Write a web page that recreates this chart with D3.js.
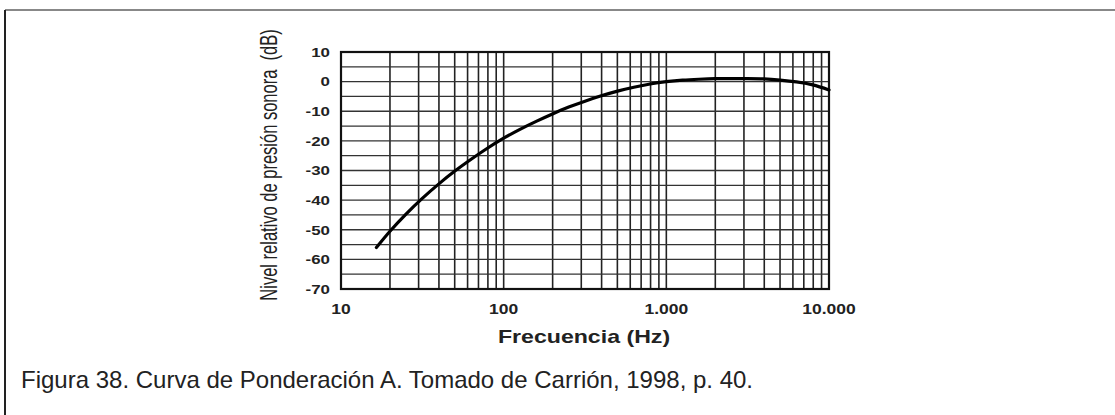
<!DOCTYPE html>
<html>
<head>
<meta charset="utf-8">
<script src="https://cdn.jsdelivr.net/npm/d3@7"></script>
<style>
  body { margin: 0; background: #fff; }
  svg { display: block; }
</style>
</head>
<body>
<script>
// A-weighting curve, values
const freqs = [16.5, 20, 25.1, 31.6, 39.8, 50.1, 63.1, 79.4, 100, 125.9, 158.5, 199.5, 251.2, 316.2, 398.1, 501.2, 631, 794.3, 1000, 1258.9, 1584.9, 1995.3, 2511.9, 3162.3, 3981.1, 5011.9, 6309.6, 7943.3, 10000]
const levels = [-56, -50.5, -44.7, -39.4, -34.6, -30.2, -26.2, -22.5, -19.1, -16.1, -13.4, -10.9, -8.6, -6.6, -4.8, -3.2, -1.9, -0.8, 0, 0.5, 0.8, 1.0, 1.0, 1.0, 0.9, 0.5, -0.1, -1.1, -2.8]
const xTickLabels = ["10", "100", "1.000", "10.000"]
const xTickValues = [10, 100, 1000, 10000]
const yTickValues = [10, 0, -10, -20, -30, -40, -50, -60, -70]

const width = 1115
const height = 415
const plotLeft = 341, plotRight = 829, plotTop = 52, plotBottom = 289
const stretch = 1.25

const svg = d3.select("body").append("svg")
    .attr("width", width)
    .attr("height", height)

const x = d3.scaleLog().domain([10, 10000]).range([plotLeft, plotRight])
const y = d3.scaleLinear().domain([-70, 10]).range([plotBottom, plotTop])

// outer frame
svg.append("line").attr("x1", 5).attr("x2", width).attr("y1", 10).attr("y2", 10)
    .attr("stroke", "#888").attr("stroke-width", 2)
svg.append("line").attr("x1", 5).attr("x2", 5).attr("y1", 10).attr("y2", height)
    .attr("stroke", "#222").attr("stroke-width", 2)

// grid
const xGrid = []
for (let d = 10; d < 10000; d *= 10) {
    for (let m = 2; m <= 10; m++) xGrid.push(d * m)
}
svg.append("g").selectAll("line")
    .data(xGrid)
    .enter().append("line")
    .attr("x1", d => x(d)).attr("x2", d => x(d))
    .attr("y1", plotTop).attr("y2", plotBottom)
    .attr("stroke", "#222").attr("stroke-width", 1.6)

svg.append("g").selectAll("line")
    .data(d3.range(-65, 10, 5))
    .enter().append("line")
    .attr("x1", plotLeft).attr("x2", plotRight)
    .attr("y1", d => y(d)).attr("y2", d => y(d))
    .attr("stroke", "#333").attr("stroke-width", 1.3)

svg.append("rect")
    .attr("x", plotLeft).attr("y", plotTop)
    .attr("width", plotRight - plotLeft).attr("height", plotBottom - plotTop)
    .attr("fill", "none").attr("stroke", "#111").attr("stroke-width", 2.2)

// curve
const line = d3.line()
    .x((d, i) => x(freqs[i]))
    .y(d => y(d))
    .curve(d3.curveNatural)
svg.append("path")
    .datum(levels)
    .attr("d", line)
    .attr("fill", "none")
    .attr("stroke", "#000")
    .attr("stroke-width", 3.2)
    .attr("stroke-linecap", "round")

// tick labels
const font = "'Liberation Sans', Arial, sans-serif"
svg.append("g").selectAll("text")
    .data(xTickValues)
    .enter().append("text")
    .attr("transform", d => `translate(${x(d)},314) scale(${stretch},1)`)
    .attr("text-anchor", "middle")
    .attr("font-family", font).attr("font-weight", "bold").attr("font-size", 14)
    .attr("fill", "#222")
    .text((d, i) => xTickLabels[i])

svg.append("g").selectAll("text")
    .data(yTickValues)
    .enter().append("text")
    .attr("transform", d => `translate(330,${y(d)}) scale(${stretch},1)`)
    .attr("dy", "0.36em")
    .attr("text-anchor", "end")
    .attr("font-family", font).attr("font-weight", "bold").attr("font-size", 13.5)
    .attr("fill", "#222")
    .text(d => d)

// axis titles
svg.append("text")
    .attr("transform", `translate(584,343) scale(${stretch},1)`)
    .attr("text-anchor", "middle")
    .attr("font-family", font).attr("font-weight", "bold").attr("font-size", 18.5)
    .attr("fill", "#222")
    .text("Frecuencia (Hz)")

svg.append("text")
    .attr("transform", `translate(277,165) scale(1.4,1) rotate(-90)`)
    .attr("text-anchor", "middle")
    .attr("font-family", font).attr("font-size", 16.5)
    .attr("fill", "#222")
    .attr("xml:space", "preserve")
    .text("Nivel relativo de presión sonora  (dB)")

// caption
svg.append("text")
    .attr("x", 21).attr("y", 388)
    .attr("font-family", font).attr("font-size", 24)
    .attr("fill", "#222")
    .text("Figura 38. Curva de Ponderación A. Tomado de Carrión, 1998, p. 40.")
</script>
</body>
</html>
